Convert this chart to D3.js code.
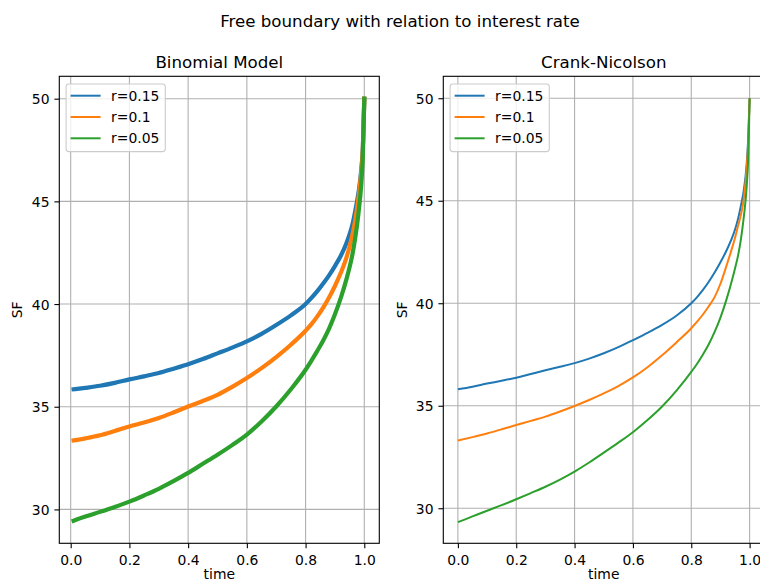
<!DOCTYPE html>
<html>
<head>
<meta charset="utf-8">
<script src="https://cdn.jsdelivr.net/npm/d3@7"></script>
<style>
  html, body { margin: 0; padding: 0; background: #ffffff; }
  svg { display: block; font-family: "DejaVu Sans", sans-serif; }
</style>
</head>
<body>
<svg id="chart" width="760" height="582"></svg>
<script>
// ---- data -------------------------------------------------------------
const seriesNames = ["r=0.15", "r=0.1", "r=0.05"];
const seriesColors = ["#1f77b4", "#ff7f0e", "#2ca02c"];

// Binomial model: exercise boundary against time
const binomTime = [0.01, 0.05, 0.10, 0.15, 0.20, 0.25, 0.30, 0.35, 0.40, 0.45, 0.50,
  0.55, 0.60, 0.65, 0.70, 0.75, 0.80, 0.82, 0.84, 0.86, 0.88, 0.90, 0.92, 0.94,
  0.95, 0.96, 0.97, 0.98, 0.99, 0.995, 1.0];
const binomR015 = [35.85, 35.92, 36.02, 36.16, 36.33, 36.48, 36.64, 36.85, 37.07, 37.32, 37.60,
  37.88, 38.18, 38.55, 38.98, 39.45, 40.00, 40.30, 40.63, 41.00, 41.40, 41.85, 42.35, 43.00,
  43.40, 43.90, 44.60, 45.40, 46.60, 47.60, 50.0];
const binomR010 = [33.36, 33.46, 33.61, 33.82, 34.04, 34.23, 34.45, 34.72, 35.01, 35.28, 35.58,
  35.97, 36.40, 36.88, 37.42, 38.02, 38.70, 39.02, 39.40, 39.83, 40.32, 40.88, 41.52, 42.30,
  42.80, 43.40, 44.15, 45.15, 46.50, 47.50, 50.0];
const binomR005 = [29.45, 29.65, 29.88, 30.12, 30.38, 30.68, 31.00, 31.38, 31.78, 32.22, 32.66,
  33.13, 33.64, 34.28, 35.01, 35.85, 36.80, 37.25, 37.72, 38.22, 38.80, 39.50, 40.30, 41.25,
  41.80, 42.45, 43.30, 44.40, 45.90, 47.20, 50.0];

// Crank-Nicolson: exercise boundary against time
const cnTime = [0.00, 0.05, 0.10, 0.15, 0.20, 0.25, 0.30, 0.35, 0.40, 0.45, 0.50,
  0.55, 0.60, 0.65, 0.70, 0.75, 0.80, 0.82, 0.84, 0.86, 0.88, 0.90, 0.92, 0.94,
  0.95, 0.96, 0.97, 0.98, 0.99, 0.995, 1.0];
const cnR015 = [35.80, 35.93, 36.08, 36.22, 36.37, 36.55, 36.73, 36.90, 37.08, 37.30, 37.56,
  37.86, 38.20, 38.55, 38.94, 39.40, 40.00, 40.30, 40.65, 41.05, 41.50, 42.00, 42.55, 43.20,
  43.60, 44.10, 44.75, 45.50, 46.80, 48.00, 50.0];
const cnR010 = [33.30, 33.47, 33.65, 33.85, 34.06, 34.26, 34.47, 34.72, 34.99, 35.28, 35.60,
  35.96, 36.38, 36.88, 37.46, 38.10, 38.78, 39.10, 39.45, 39.85, 40.30, 40.95, 41.80, 42.70,
  43.20, 43.75, 44.30, 45.10, 46.60, 47.80, 50.0];
const cnR005 = [29.32, 29.60, 29.88, 30.15, 30.44, 30.74, 31.05, 31.40, 31.79, 32.23, 32.71,
  33.20, 33.71, 34.30, 34.96, 35.75, 36.65, 37.05, 37.50, 38.00, 38.60, 39.30, 40.15, 41.15,
  41.70, 42.30, 43.10, 44.20, 45.70, 47.00, 50.0];

const xTicks = [0.0, 0.2, 0.4, 0.6, 0.8, 1.0];
const yTicks = [30, 35, 40, 45, 50];

// ---- layout -----------------------------------------------------------
const svg = d3.select("#chart");
const FONT = 13.9;
const GRID = "#b0b0b0";

svg.append("text")
  .attr("x", 400).attr("y", 27)
  .attr("text-anchor", "middle")
  .attr("font-size", 16.67)
  .text("Free boundary with relation to interest rate");

const panels = [
  {
    id: "binom", title: "Binomial Model",
    left: 59.3, right: 379.3, top: 76.3, bottom: 543.3,
    xDomain: [-0.0388, 1.0511], yDomain: [28.35, 51.09],
    time: binomTime, series: [binomR015, binomR010, binomR005],
    width: 4.2, ylabelX: 22
  },
  {
    id: "cn", title: "Crank-Nicolson",
    left: 443.3, right: 764.2, top: 76.3, bottom: 543.3,
    xDomain: [-0.05, 1.05], yDomain: [28.29, 51.07],
    time: cnTime, series: [cnR015, cnR010, cnR005],
    width: 2, ylabelX: 407
  }
];

panels.forEach(p => {
  const x = d3.scaleLinear().domain(p.xDomain).range([p.left, p.right]);
  const y = d3.scaleLinear().domain(p.yDomain).range([p.bottom, p.top]);
  const g = svg.append("g");

  g.append("clipPath").attr("id", "clip-" + p.id)
    .append("rect")
    .attr("x", p.left).attr("y", p.top)
    .attr("width", p.right - p.left).attr("height", p.bottom - p.top);

  // grid
  g.append("g").selectAll("line").data(xTicks).join("line")
    .attr("x1", d => x(d)).attr("x2", d => x(d))
    .attr("y1", p.top).attr("y2", p.bottom)
    .attr("stroke", GRID).attr("stroke-width", 1.1);
  g.append("g").selectAll("line").data(yTicks).join("line")
    .attr("x1", p.left).attr("x2", p.right)
    .attr("y1", d => y(d)).attr("y2", d => y(d))
    .attr("stroke", GRID).attr("stroke-width", 1.1);

  // curves
  const lineGen = d3.line()
    .x(d => x(d[0])).y(d => y(d[1]))
    .curve(d3.curveMonotoneX);
  const lines = g.append("g").attr("clip-path", `url(#clip-${p.id})`);
  p.series.forEach((vals, i) => {
    lines.append("path")
      .datum(p.time.map((t, k) => [t, vals[k]]))
      .attr("d", lineGen)
      .attr("fill", "none")
      .attr("stroke", seriesColors[i])
      .attr("stroke-width", p.width)
      .attr("stroke-linejoin", "round")
      .attr("stroke-linecap", p.id === "binom" ? "square" : "butt");
  });

  // axes
  const xAxis = d3.axisBottom(x).tickValues(xTicks).tickFormat(d3.format(".1f"))
    .tickSize(4.9).tickPadding(4.9);
  const yAxis = d3.axisLeft(y).tickValues(yTicks).tickFormat(d3.format("d"))
    .tickSize(4.9).tickPadding(4.9);
  const gx = g.append("g").attr("transform", `translate(0,${p.bottom})`).call(xAxis);
  const gy = g.append("g").attr("transform", `translate(${p.left},0)`).call(yAxis);
  [gx, gy].forEach(a => {
    a.select(".domain").remove();
    a.selectAll(".tick line").attr("stroke", "#000").attr("stroke-width", 1.1);
    a.selectAll(".tick text").attr("fill", "#000").attr("font-size", FONT)
      .attr("font-family", "DejaVu Sans, sans-serif");
  });
  gx.selectAll(".tick text").attr("dy", null).attr("y", 21.7);
  gy.selectAll(".tick text").attr("dy", "0.36em");

  // spines
  g.append("rect")
    .attr("x", p.left).attr("y", p.top)
    .attr("width", p.right - p.left).attr("height", p.bottom - p.top)
    .attr("fill", "none").attr("stroke", "#000").attr("stroke-width", 1.1);

  // titles and labels
  g.append("text")
    .attr("x", (p.left + p.right) / 2).attr("y", 67.8)
    .attr("text-anchor", "middle").attr("font-size", 16.67)
    .text(p.title);
  g.append("text")
    .attr("x", (p.left + p.right) / 2).attr("y", 578.5)
    .attr("text-anchor", "middle").attr("font-size", FONT)
    .text("time");
  g.append("text")
    .attr("transform", `translate(${p.ylabelX},${(p.top + p.bottom) / 2}) rotate(-90)`)
    .attr("text-anchor", "middle").attr("font-size", FONT)
    .text("SF");

  // legend
  const lx = p.left + 6.8, ly = p.top + 7.7;
  const leg = g.append("g");
  leg.append("rect")
    .attr("x", lx).attr("y", ly).attr("width", 99.2).attr("height", 67.6)
    .attr("rx", 2.8).attr("ry", 2.8)
    .attr("fill", "#ffffff").attr("fill-opacity", 0.8)
    .attr("stroke", "#cccccc").attr("stroke-width", 1.1);
  seriesNames.forEach((name, i) => {
    const ry = ly + 11.7 + i * 21.3;
    leg.append("line")
      .attr("x1", lx + 4.5).attr("x2", lx + 34.5)
      .attr("y1", ry).attr("y2", ry)
      .attr("stroke", seriesColors[i]).attr("stroke-width", 2);
    leg.append("text")
      .attr("x", lx + 45).attr("y", ry + 5)
      .attr("font-size", FONT).attr("fill", "#000")
      .text(name);
  });
});
</script>
</body>
</html>
